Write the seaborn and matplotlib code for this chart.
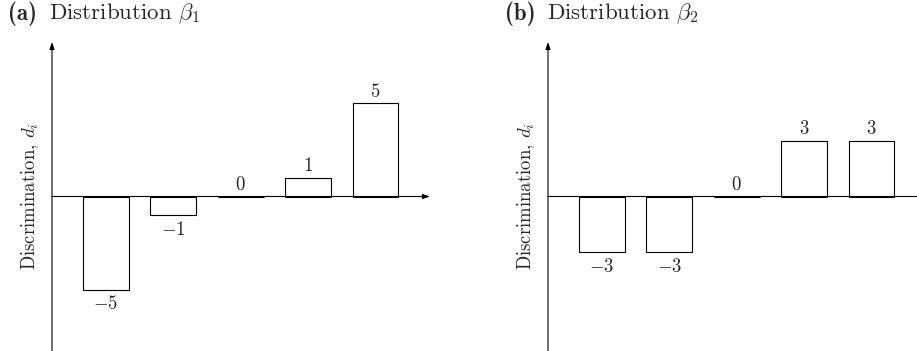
import os
import matplotlib
matplotlib.use("Agg")
import matplotlib.pyplot as plt
from matplotlib.font_manager import FontProperties
import seaborn as sns
import pandas as pd

# item index and discrimination values for the two distributions
items = [1, 2, 3, 4, 5]
beta1 = [-5, -1, 0, 1, 5]
beta2 = [-3, -3, 0, 3, 3]
tags = ["(a)", "(b)"]
titles = [r"Distribution $\beta_1$", r"Distribution $\beta_2$"]
ylabel = r"Discrimination, $d_i$"

sns.set_theme(style="white")
plt.rcParams["font.family"] = ["cmr10", "DejaVu Serif"]
plt.rcParams["mathtext.fontset"] = "cm"
plt.rcParams["axes.unicode_minus"] = False
plt.rcParams["axes.formatter.use_mathtext"] = True

bold_cm = FontProperties(fname=os.path.join(matplotlib.get_data_path(), "fonts", "ttf", "cmb10.ttf"),
                         size=16.5)

W, H = 917, 351
fig = plt.figure(figsize=(W / 100, H / 100), dpi=100)


def panel(left_px, values, tag, title, tag_x, title_x):
    # axes box in pixels: y-axis line at left_px, runs from y=42 to y=351
    ax = fig.add_axes([left_px / W, 0, 378 / W, (H - 42) / H])
    df = pd.DataFrame({"item": items, "d": values})
    sns.barplot(data=df, x="item", y="d", color="white", edgecolor="black",
                linewidth=0.8, width=0.68, saturation=1, ax=ax)
    xmin, xmax = -0.80, 4.81
    ymin, ymax = -8.3, 8.3
    ax.set_xlim(xmin, xmax)
    ax.set_ylim(ymin, ymax)
    for s in ax.spines.values():
        s.set_visible(False)
    ax.set_xticks([])
    ax.set_yticks([])
    ax.set_xlabel("")
    ax.set_ylabel("")
    arrow = dict(arrowstyle="-|>,head_length=0.35,head_width=0.12",
                 color="black", lw=0.8, shrinkA=0, shrinkB=0)
    ax.annotate("", xy=(xmin, ymax), xytext=(xmin, ymin - 1),
                arrowprops=arrow, annotation_clip=False)
    ax.annotate("", xy=(xmax, 0), xytext=(xmin, 0),
                arrowprops=arrow, annotation_clip=False)
    for i, v in enumerate(values):
        if v >= 0:
            ax.annotate(rf"${v}$", (i, v), xytext=(0, 2), textcoords="offset points",
                        ha="center", va="bottom", fontsize=13.5)
        else:
            ax.annotate(rf"${v}$", (i, v), xytext=(0, -4), textcoords="offset points",
                        ha="center", va="top", fontsize=13.5)
    ax.text(-0.058, 0.5, ylabel, transform=ax.transAxes, rotation=90,
            ha="center", va="center", fontsize=13.5)
    fig.text(tag_x / W, 1 - 14 / H, tag, ha="left", va="center", fontproperties=bold_cm)
    fig.text(title_x / W, 1 - 14 / H, title, ha="left", va="center", fontsize=16.5)
    return ax


panel(52, beta1, tags[0], titles[0], 8, 49)
panel(548, beta2, tags[1], titles[1], 505, 547)

fig.savefig("out.png", dpi=100, facecolor="white")
